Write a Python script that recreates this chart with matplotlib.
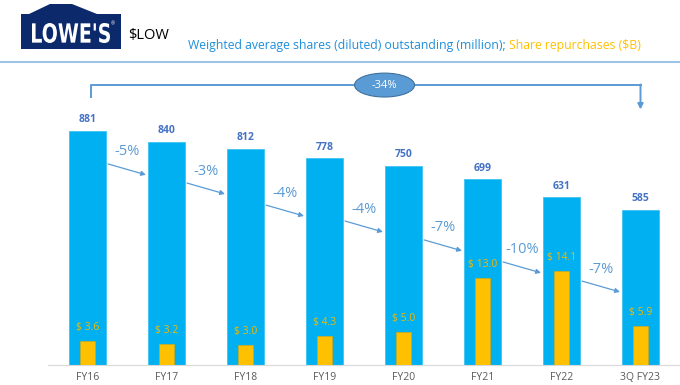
import matplotlib.pyplot as plt
from matplotlib.patches import Ellipse, Polygon, PathPatch
from matplotlib.textpath import TextPath
from matplotlib.font_manager import FontProperties
from matplotlib.transforms import Affine2D

# Data
years = ["FY16", "FY17", "FY18", "FY19", "FY20", "FY21", "FY22", "3Q FY23"]
shares = [881, 840, 812, 778, 750, 699, 631, 585]        # million, diluted
buybacks = [3.6, 3.2, 3.0, 4.3, 5.0, 13.0, 14.1, 5.9]   # $B
# heights (in share units) where the year-over-year arrows start
arrow_start = [757, 685, 602, 542, 471, 388, 316]

blue = "#00B0F0"
orange = "#FFC000"
note = "#5B9BD5"

plt.rcParams["font.family"] = ["Open Sans", "DejaVu Sans"]

fig = plt.figure(figsize=(6.8, 3.85), dpi=100)
W, H = 680, 385

# axes: bottom line at y=365px, top at y=80px
ax = fig.add_axes([48 / W, 20 / H, 632 / W, 285 / H])
ax2 = ax.twinx()
ax.set_zorder(ax2.get_zorder() - 1)
ax2.patch.set_visible(False)

x = list(range(len(years)))
ax.bar(x, shares, width=0.47, color=blue, edgecolor="#3FC3F3", lw=0.6)
ax2.bar(x, buybacks, width=0.19, color=orange, edgecolor="#E0A800", lw=0.4)

ax.set_xlim(-0.5, 7.5)
ax.set_ylim(0, 285 / 0.2656)
ax2.set_ylim(0, 285 / 6.67)

for a in (ax, ax2):
    for s in ("top", "right", "left"):
        a.spines[s].set_visible(False)
    a.set_yticks([])
ax2.spines["bottom"].set_visible(False)
ax.spines["bottom"].set_color("#D9D9D9")
ax.set_xticks(x, years)
ax.tick_params(axis="x", length=0, pad=5, labelsize=7.5, labelcolor="#595959")

for i, v in enumerate(shares):
    ax.text(i, v + 22, str(v), ha="center", va="bottom", fontsize=7.5,
            fontweight="bold", color="#4472C4")
for i, v in enumerate(buybacks):
    ax2.text(i, v + 1.2, f"$ {v:.1f}", ha="center", va="bottom", fontsize=7.5,
             color="#F2B705")

# year-over-year change arrows
for i in range(len(shares) - 1):
    pct = round((shares[i + 1] / shares[i] - 1) * 100)
    y0 = arrow_start[i]
    ax.annotate("", xy=(i + 1 - 0.26, y0 - 41), xytext=(i + 0.26, y0),
                arrowprops=dict(arrowstyle="-|>", color=note, lw=0.9,
                                mutation_scale=7, shrinkA=0, shrinkB=0))
    ax.text(i + 0.5, y0 + 45, f"{pct}%", ha="center", va="center",
            fontsize=10.5, color=note)

# overall change bracket
total = round((shares[-1] / shares[0] - 1) * 100)
ytop = 1056
ax.plot([0.04, 0.04, 7], [1009, ytop, ytop], color=note, lw=1.4, clip_on=False)
ax.annotate("", xy=(7, 962), xytext=(7, ytop),
            arrowprops=dict(arrowstyle="-|>", color=note, lw=1.4,
                            mutation_scale=8, shrinkA=0, shrinkB=0),
            annotation_clip=False)
ax.add_patch(Ellipse((3.76, 1054), 0.76, 90, facecolor=note, edgecolor="#41719C",
                     lw=0.8, clip_on=False, zorder=5))
ax.text(3.76, 1054, f"{total}%", ha="center", va="center", fontsize=8,
        color="white", zorder=6)

# header: logo (house shape + squeezed wordmark), ticker, title, rule
pts = [(21, 49), (21, 14), (29, 14), (50, 4), (72, 4), (97, 14), (121, 14), (121, 49)]
logo = Polygon([(px, H - py) for px, py in pts], closed=True,
               transform=Affine2D(), facecolor="#0C2A6B", edgecolor="none")
fig.patches.append(logo)
tp = TextPath((0, 0), "LOWE'S", size=20,
              prop=FontProperties(family="DejaVu Sans", weight="bold"))
ext = tp.get_extents()
sx = (110 - 32) / ext.width
sy = (43 - 23) / ext.height
word = PathPatch(tp, facecolor="white", edgecolor="none",
                 transform=Affine2D().translate(-ext.x0, -ext.y0).scale(sx, sy)
                 .translate(32, H - 43))
fig.patches.append(word)
fig.text(113 / W, 1 - 24 / H, "®", ha="center", va="center", fontsize=3.5, color="white")
fig.text(128 / W, 1 - 35 / H, "$LOW", ha="left", va="center", fontsize=10.5, color="black")

t1 = fig.text(188 / W, 1 - 45 / H, "Weighted average shares (diluted) outstanding (million); ",
              ha="left", va="center", fontsize=8.85, color="#1F8FD8")
fig.canvas.draw()
bb = t1.get_window_extent()
fig.text(bb.x1 / W, 1 - 45 / H, "Share repurchases ($B)", ha="left", va="center",
         fontsize=8.85, color=orange)
fig.add_artist(plt.Line2D([0, 1], [1 - 62 / H] * 2, color="#9DC3E6", lw=1.5,
                          transform=fig.transFigure))

fig.savefig("out.png", dpi=100)
